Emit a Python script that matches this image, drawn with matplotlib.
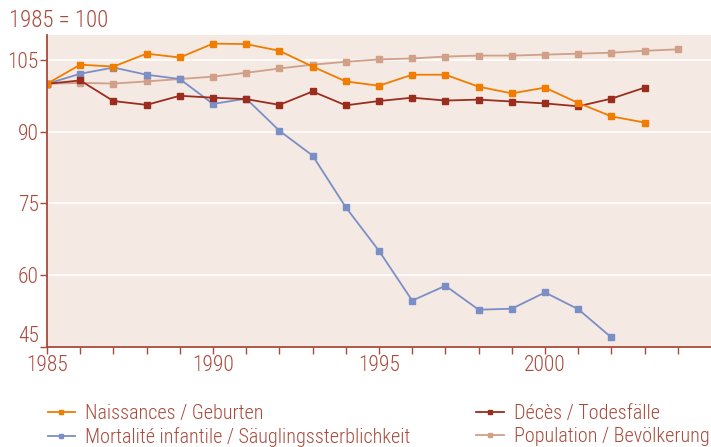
import numpy as np
import matplotlib.pyplot as plt

plt.rcParams['font.family'] = ['Roboto Condensed', 'DejaVu Sans']
plt.rcParams['font.weight'] = 'light'

years = np.arange(1985, 2005)

naissances = [100, 104.0, 103.6, 106.3, 105.5, 108.4, 108.3, 106.9, 103.6, 100.5,
              99.6, 101.9, 101.9, 99.4, 98.0, 99.2, 96.0, 93.2, 91.9]
deces = [100, 100.7, 96.4, 95.6, 97.5, 97.1, 96.8, 95.6, 98.4, 95.5,
         96.4, 97.1, 96.5, 96.7, 96.3, 95.9, 95.3, 96.9, 99.2]
mortalite = [100, 102.1, 103.4, 101.9, 101.0, 95.8, 96.9, 90.2, 85.0, 74.2,
             65.1, 54.7, 57.8, 52.8, 53.0, 56.4, 52.9, 47.0]
population = [100, 100.2, 100.05, 100.5, 101.0, 101.5, 102.3, 103.2, 104.0, 104.6,
              105.1, 105.3, 105.7, 105.9, 105.9, 106.1, 106.3, 106.5, 106.9, 107.2]

c_nais = '#f07d00'
c_deces = '#9b2d1f'
c_mort = '#7b8fc7'
c_pop = '#d0a088'
c_text = '#a84a3c'
c_bg = '#f4e9e3'

fig = plt.figure(figsize=(7.11, 4.47), dpi=100)
ax = fig.add_axes([0.0661, 0.2237, 0.9339, 0.698])
ax.set_facecolor(c_bg)

kw = dict(lw=1.3, marker='s', markersize=4)
l_pop, = ax.plot(years[:len(population)], population, color=c_pop, **kw)
l_mort, = ax.plot(years[:len(mortalite)], mortalite, color=c_mort, **kw)
l_deces, = ax.plot(years[:len(deces)], deces, color=c_deces, **kw)
l_nais, = ax.plot(years[:len(naissances)], naissances, color=c_nais, **kw)

ax.set_xlim(1985, 2005)
ax.set_ylim(45, 110.2)
ax.set_yticks([45, 60, 75, 90, 105])
ax.set_xticks([1985, 1990, 1995, 2000])
ax.set_xticks(np.arange(1985, 2005), minor=True)
ax.grid(axis='y', color='white', lw=1.2)
ax.set_axisbelow(True)

for s in ['top', 'right']:
    ax.spines[s].set_visible(False)
for s in ['left', 'bottom']:
    ax.spines[s].set_color(c_text)
    ax.spines[s].set_linewidth(1.3)

ax.tick_params(axis='both', colors=c_text, labelsize=15.5, length=5, width=1)
ax.tick_params(axis='x', which='minor', colors=c_text, length=5, width=1)
ax.tick_params(axis='y', pad=1)
ax.tick_params(axis='x', pad=1)
# lowest y label sits above the x axis, as in the original
ax.yaxis.get_major_ticks()[0].label1.set_verticalalignment('bottom')

fig.text(0.013, 0.955, '1985 = 100', color=c_text, fontsize=16.5, va='center')

leg_kw = dict(loc='upper left', frameon=False, fontsize=14.5, handlelength=1.35,
              handletextpad=0.5, labelspacing=0.2, labelcolor=c_text,
              borderaxespad=0, borderpad=0)
leg1 = fig.legend([l_nais, l_mort],
                  ['Naissances / Geburten', 'Mortalité infantile / Säuglingssterblichkeit'],
                  bbox_to_anchor=(0.067, 0.097), **leg_kw)
leg2 = fig.legend([l_deces, l_pop],
                  ['Décès / Todesfälle', 'Population / Bevölkerung'],
                  bbox_to_anchor=(0.670, 0.097), **leg_kw)
for leg in (leg1, leg2):
    for h in leg.legend_handles:
        h.set_markersize(3.5)

fig.savefig('out.png', dpi=100)
